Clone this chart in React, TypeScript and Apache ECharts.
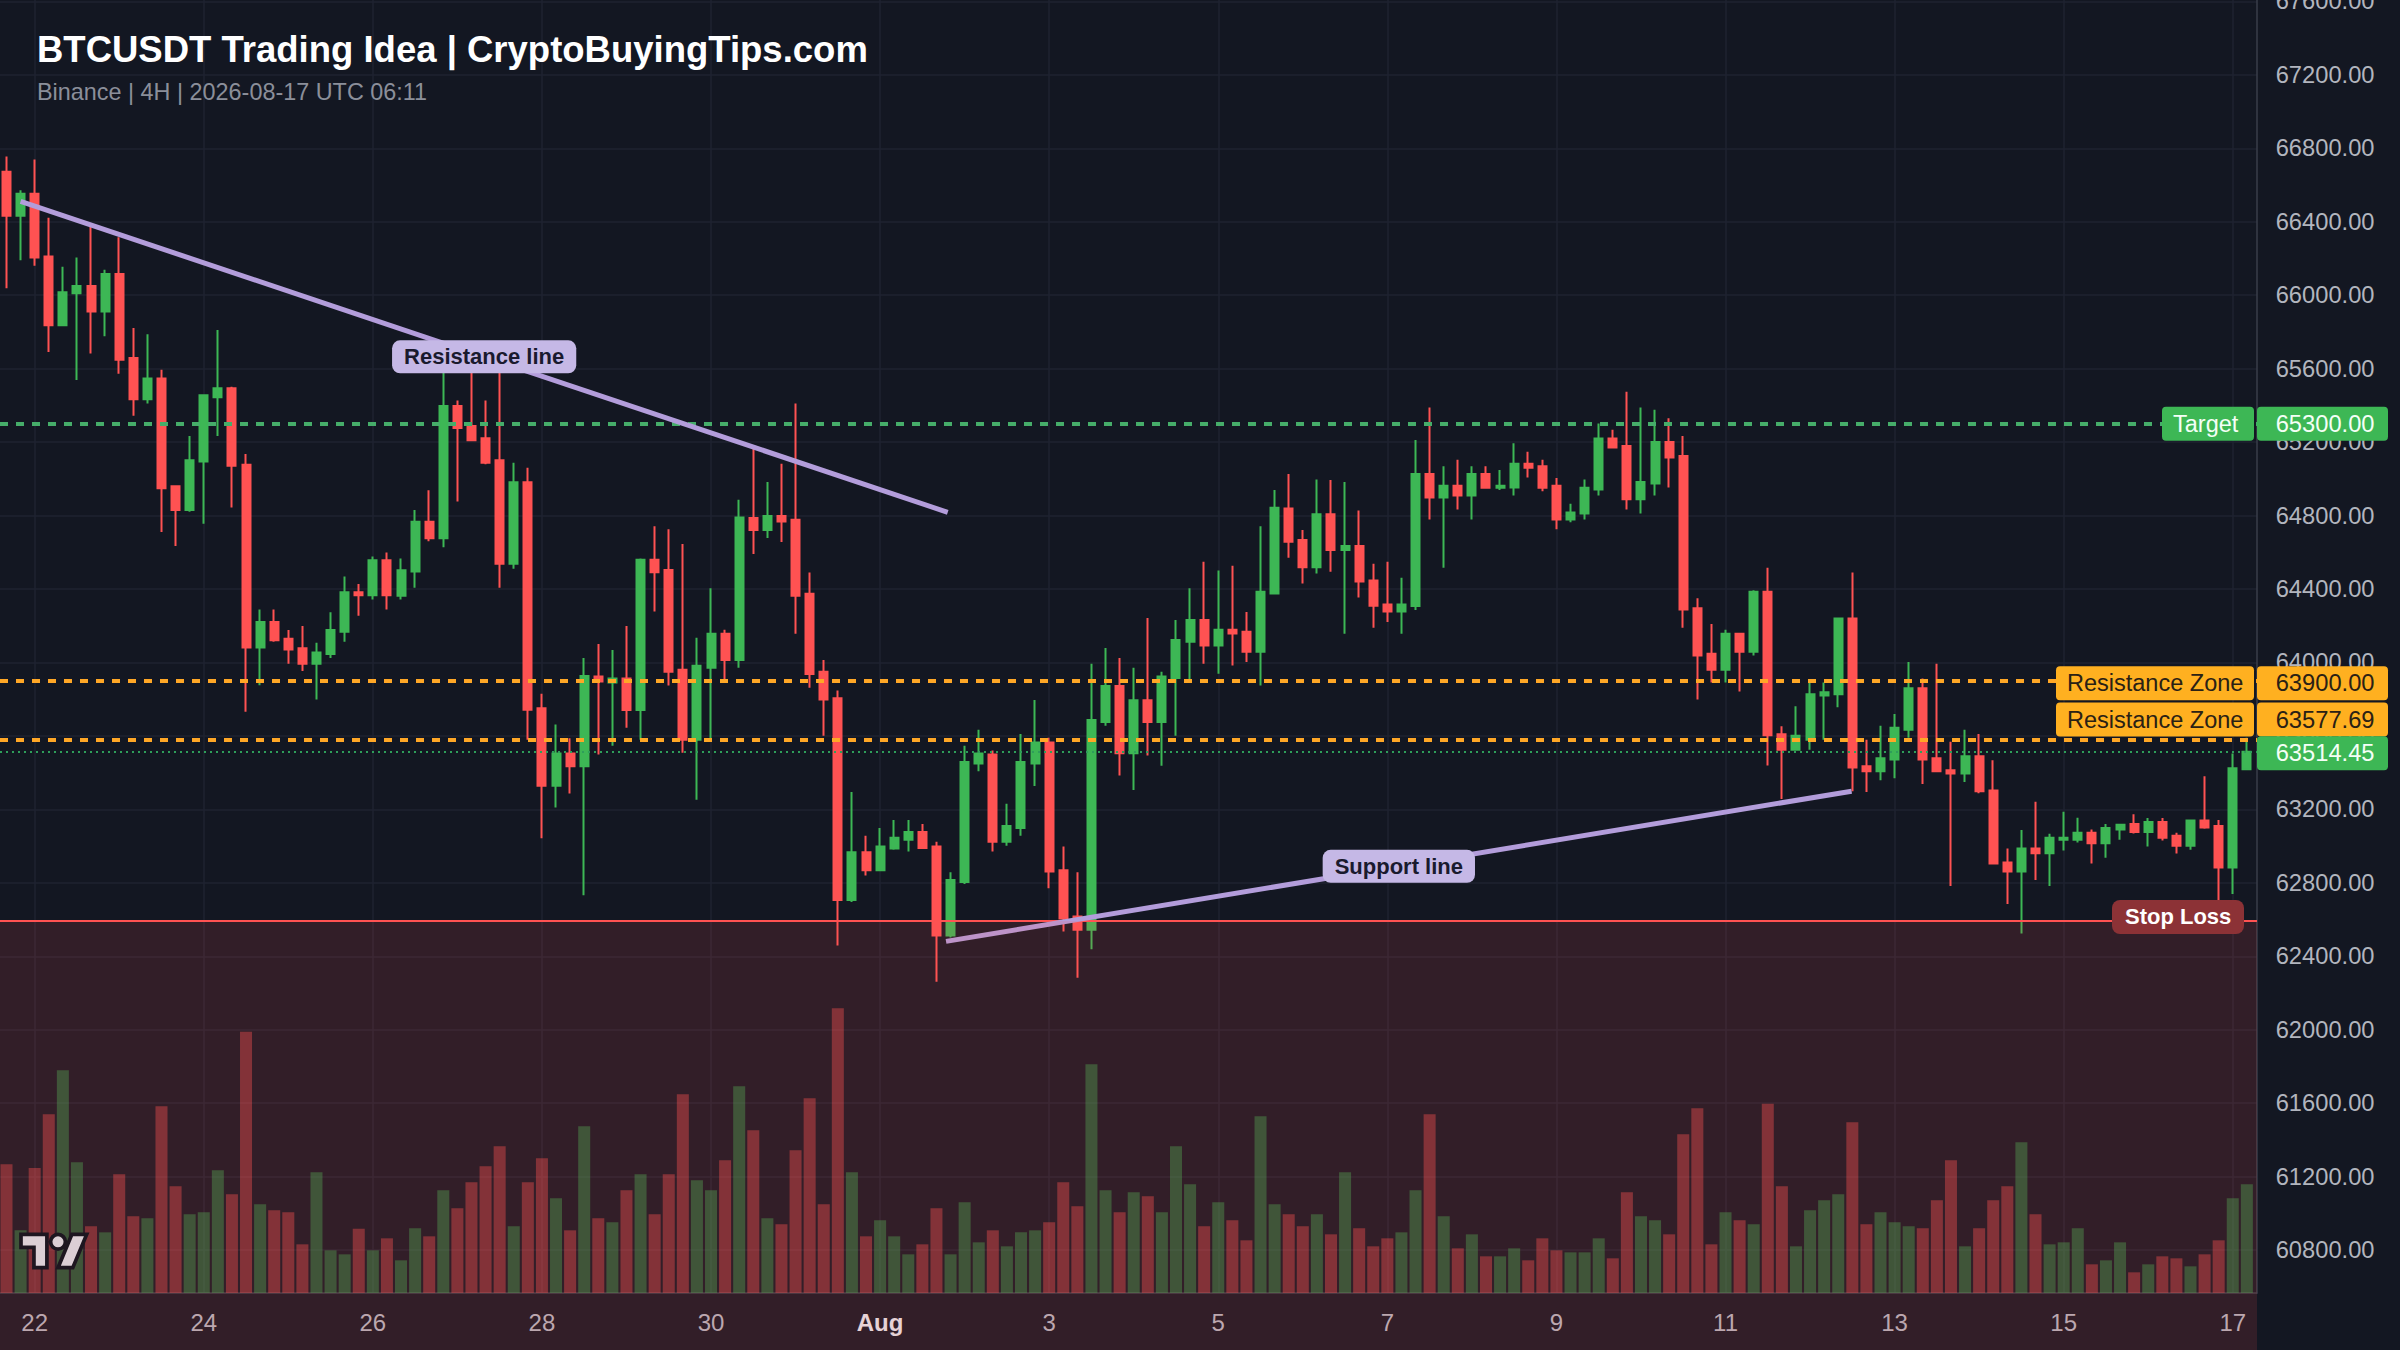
import React, { useEffect, useRef } from "react";
import * as echarts from "echarts";

const opens = [66672,66433,66553,66211,65836,66011,66050,65911,66116,65658,65433,65547,64960,64830,65094,65444,65494,65077,64082,64221,64129,64077,63993,64046,64168,64382,64366,64557,64363,64496,64766,64677,65397,65288,65221,65102,64538,64982,63751,63329,63504,63435,
63924,63891,63913,63741,64559,64503,63960,63579,63971,64156,64014,64787,64721,64798,64777,64374,63950,63805,62707,62967,62868,62987,63034,63077,62998,62513,62804,63450,63499,63023,63099,63450,63564,62868,62616,62545,63676,63872,63506,63794,63676,63915,64113,
64232,64092,64178,64167,64059,64376,64839,64667,64518,64807,64613,64634,64447,64316,64277,64307,65026,64899,64962,64910,65026,64951,64953,65082,65069,64962,64779,64811,64942,65220,65179,64889,64975,65201,65125,64296,64047,63960,64156,64059,64385,63609,63525,
63579,63820,63827,64240,63435,63407,63471,63633,63859,63478,63413,63396,63489,63303,62911,62862,62987,62961,63034,63034,63073,63015,63090,63120,63077,63131,63056,63002,63140,63110,62883,63418];
const closes = [66433,66553,66205,65836,66016,66050,65911,66116,65649,65433,65547,64949,64830,65102,65455,65494,65071,64082,64221,64121,64071,63993,64054,64177,64382,64366,64557,64366,64502,64766,64677,65397,65277,65210,65088,64538,64982,63743,63329,63504,63435,63926,
63896,63913,63741,64559,64492,63950,63579,63982,64156,64014,64790,64721,64798,64768,64363,63937,63799,62707,62967,62868,62998,63045,63077,62989,62513,62815,63458,63504,63023,63110,63458,63564,62862,62606,62545,63687,63872,63506,63794,63676,63924,64122,64232,
64092,64178,64158,64059,64385,64843,64658,64518,64807,64613,64634,64441,64309,64277,64316,65026,64899,64962,64910,65026,64951,64962,65082,65061,64951,64779,64817,64951,65220,65171,64889,64983,65201,65117,64288,64038,63960,64156,64059,64385,63603,63525,63601,
63827,63838,64240,63428,63407,63478,63644,63859,63471,63407,63396,63489,63299,62905,62862,62987,62961,63045,63045,63073,63015,63099,63116,63077,63131,63045,63002,63140,63101,62883,63424,63514.45];
const lows = [66038,66191,66161,65691,65836,65538,65683,65777,65572,65344,65410,64710,64635,64821,64755,65233,64844,63732,63876,64113,63993,63954,63799,64024,64113,64254,64343,64288,64343,64407,64660,64627,64877,65205,65080,64407,64510,63579,63043,63210,63287,62732,
63499,63547,63644,63579,64277,63874,63508,63252,63579,63891,63971,64591,64678,64656,64156,63863,63601,62459,62696,62840,62868,62980,62970,62987,62261,62502,62793,63407,62970,63002,63056,63327,62771,62535,62283,62438,63655,63385,63306,63493,63437,63601,63891,
63993,63939,63984,64003,63874,64376,64570,64430,64484,64494,64156,64354,64189,64221,64156,64286,64779,64516,64833,64779,64947,64940,64910,65007,64932,64725,64764,64779,64910,65169,64833,64811,64910,64953,64189,63799,63891,63891,63842,64038,63439,63256,63525,
63525,63579,63756,63299,63295,63359,63370,63590,63338,63407,62782,63349,63288,62905,62685,62524,62815,62782,62976,63019,62905,62937,63034,63069,62998,63030,62959,62980,63095,62653,62739,63418];
const highs = [66755,66572,66739,66422,66155,66205,66372,66139,66316,65822,65788,65594,64960,65233,65455,65811,65502,65135,64288,64288,64177,64199,64107,64274,64468,64427,64577,64599,64566,64830,64938,65594,65427,65594,65427,65594,65088,65060,63829,63662,63587,64024,
64100,64068,64199,64566,64742,64725,64645,64135,64404,64178,64886,65162,64983,65082,65410,64490,64014,63848,63295,63056,63099,63142,63142,63120,63023,62858,63547,63633,63521,63230,63611,63795,63590,62998,62858,63993,64079,64025,63971,64242,63950,64232,64404,
64548,64501,64527,64275,64742,64940,65026,64721,64996,64994,64983,64828,64538,64548,64462,65212,65388,65069,65104,65069,65069,65048,65194,65147,65104,65005,64865,64996,65302,65268,65474,65388,65377,65330,65233,64350,64210,64178,64156,64393,64516,63652,63762,
63891,63891,64240,64490,63579,63655,63719,64003,63913,63993,63568,63633,63611,63467,62987,63088,63241,63067,63187,63155,63090,63120,63120,63174,63153,63153,63073,63144,63381,63142,63504,63590];
const volumes = [386,188,375,536,668,392,200,182,356,230,224,560,320,236,242,368,296,784,266,248,242,146,362,128,116,193,128,164,98,194,170,308,254,332,380,440,200,332,404,284,188,500,224,212,308,356,236,356,596,338,308,398,620,488,224,206,428,
584,266,854,362,170,218,170,116,146,254,116,272,152,188,140,182,188,212,332,260,686,308,242,302,290,242,440,326,200,272,218,158,530,266,236,200,236,176,362,194,140,164,182,308,536,230,134,176,110,110,134,98,164,128,122,122,164,
104,302,230,218,176,476,554,146,242,218,206,568,320,140,248,278,296,512,206,242,212,200,194,278,398,140,194,278,320,452,236,146,152,194,86,98,152,62,86,110,104,80,116,158,284,326];

const dateTickIndex = [2,14,26,38,50,62,74,86,98,110,122,134,146,158];
const dateTickLabels = ["22","24","26","28","30","Aug","3","5","7","9","11","13","15","17"];
const priceTicks = [60800,61200,61600,62000,62400,62800,63200,63600,64000,64400,64800,65200,65600,66000,66400,66800,67200,67600];

const targetPrice = 65300;
const zoneHigh = 63900;
const zoneLow = 63577.69;
const lastPrice = 63514.45;
const stopPrice = 62592;
const resistanceLine = [[1, 66511], [66.8, 64818]];
const supportLine = [[66.68, 62481], [130.95, 63299]];

const FONT = '"Liberation Sans", Arial, Helvetica, sans-serif';
const BG = "#131722";
const UP = "#3DB755";
const DOWN = "#FF5252";
const GRID = "#1F2330";
const AXIS_TEXT = "#B2B5BE";
const PURPLE = "#B39DDB";
const TAG_PURPLE = "#C5B8E6";
const ORANGE = "#FFA726";
const AMBER = "#FFB020";
const INK = "#2A2115";

const PLOT_W = 2257;
const PLOT_H = 1293;

echarts.graphic.registerShape(
  "tvlogo",
  echarts.graphic.extendPath(
    "M14 22H7V11H0V4h14v18zM28 22h-8l7.5-18h8L28 22zM24 8a4 4 0 1 1-8 0 4 4 0 0 1 8 0z",
    {}
  )
);

function trendLabel(text: string) {
  return {
    show: true,
    position: "middle",
    rotate: 0,
    distance: 0,
    align: "center",
    verticalAlign: "middle",
    formatter: text,
    color: "#1A1A2E",
    fontFamily: FONT,
    fontWeight: "bold",
    fontSize: 22,
    lineHeight: 22,
    backgroundColor: TAG_PURPLE,
    padding: [5, 12, 6, 12],
    borderRadius: 8,
  };
}

function App() {
  const ref = useRef<HTMLDivElement>(null);
  useEffect(() => {
    const chart = echarts.init(ref.current!, null, { renderer: "svg" });
    const hLine = (value: number, color: string, width: number, type: any) => ({
      yAxis: value,
      lineStyle: { color, width, type, opacity: 1 },
      label: { show: false },
    });
    chart.setOption({
      animation: false,
      backgroundColor: BG,
      title: [
        {
          text: "BTCUSDT Trading Idea | CryptoBuyingTips.com",
          left: 37,
          top: 31,
          padding: 0,
          textStyle: { color: "#FFFFFF", fontFamily: FONT, fontSize: 36.5, fontWeight: "bold" },
        },
        {
          text: "Binance | 4H | 2026-08-17 UTC 06:11",
          left: 37,
          top: 80,
          padding: 0,
          textStyle: { color: "#8B8F9A", fontFamily: FONT, fontSize: 23.4, fontWeight: "normal" },
        },
      ],
      grid: {
        left: 0,
        top: 0,
        width: PLOT_W,
        height: PLOT_H,
        containLabel: false,
        outerBoundsMode: "none",
      },
      xAxis: {
        type: "value",
        min: -0.461,
        max: 159.72,
        axisLine: { show: true, onZero: false, lineStyle: { color: "#3A3E4A", width: 1.5 } },
        axisTick: { show: false, customValues: dateTickIndex },
        splitLine: { show: true, lineStyle: { color: GRID, width: 1.5 } },
        axisLabel: {
          customValues: dateTickIndex,
          margin: 17,
          color: AXIS_TEXT,
          fontFamily: FONT,
          fontSize: 24,
          hideOverlap: false,
          formatter: (v: number) => {
            const label = dateTickLabels[dateTickIndex.indexOf(v)] ?? "";
            return label === "Aug" ? `{b|${label}}` : label;
          },
          rich: { b: { color: "#E4E6EB", fontFamily: FONT, fontSize: 24, fontWeight: "bold" } },
        },
      },
      yAxis: [
        {
          type: "value",
          position: "right",
          min: 60566,
          max: 67608,
          axisLine: { show: true, onZero: false, lineStyle: { color: "#3A3E4A", width: 1.5 } },
          axisTick: { show: false, customValues: priceTicks },
          splitLine: { show: true, lineStyle: { color: GRID, width: 1.5 } },
          axisLabel: {
            customValues: priceTicks,
            margin: 18.7,
            align: "left",
            color: AXIS_TEXT,
            fontFamily: FONT,
            fontSize: 23.7,
            hideOverlap: false,
            formatter: (v: number) => v.toFixed(2),
          },
        },
        {
          type: "value",
          show: false,
          min: 0,
          max: 3879,
          axisLine: { show: false, onZero: false },
          splitLine: { show: false },
        },
      ],
      series: [
        {
          name: "Volume",
          type: "bar",
          yAxisIndex: 1,
          barWidth: 12,
          z: 1,
          silent: true,
          data: volumes.map((v, i) => ({
            value: [i, v],
            itemStyle: {
              color: closes[i] >= opens[i] ? "rgba(61,183,85,0.4)" : "rgba(255,82,82,0.4)",
            },
          })),
        },
        {
          name: "BTCUSDT",
          type: "candlestick",
          yAxisIndex: 0,
          barWidth: 8.5,
          z: 3,
          silent: true,
          itemStyle: {
            color: UP,
            color0: DOWN,
            borderColor: UP,
            borderColor0: DOWN,
            borderWidth: 2,
          },
          data: opens.map((o, i) => [i, o, closes[i], lows[i], highs[i]]),
          markLine: {
            silent: true,
            symbol: "none",
            animation: false,
            precision: 2,
            data: [
              hLine(targetPrice, "#46AD6A", 4, [8, 8]),
              hLine(zoneHigh, ORANGE, 4, [8, 8]),
              hLine(zoneLow, ORANGE, 4, [8, 8]),
              hLine(lastPrice, "#2E9E5A", 2, [2, 4]),
              hLine(stopPrice, DOWN, 2, "solid"),
              [
                {
                  coord: resistanceLine[0],
                  lineStyle: { color: PURPLE, width: 5, type: "solid", opacity: 1 },
                  label: trendLabel("Resistance line"),
                },
                { coord: resistanceLine[1] },
              ],
              [
                {
                  coord: supportLine[0],
                  lineStyle: { color: PURPLE, width: 5, type: "solid", opacity: 1 },
                  label: trendLabel("Support line"),
                },
                { coord: supportLine[1] },
              ],
            ],
          },
        },
      ],
    });

    const yOf = (p: number) => chart.convertToPixel({ yAxisIndex: 0 }, p) as number;
    const TAG_H = 34;
    const priceTagX = 2257;
    const priceTagW = 131;
    const nameTagRight = 2254;

    const tagText = (text: string, x: number, cy: number, fill: string, font: string, z = 102) => ({
      type: "text",
      z,
      silent: true,
      x,
      y: cy,
      style: {
        text,
        fill,
        font,
        align: "left",
        verticalAlign: "middle",
        textAlign: "left",
        textVerticalAlign: "middle",
      },
    });
    const tagRect = (x: number, cy: number, w: number, fill: string, r: any = 4, z = 101) => ({
      type: "rect",
      z,
      silent: true,
      shape: { x, y: cy - TAG_H / 2, width: w, height: TAG_H, r },
      style: { fill },
    });
    const axisFont = `23.7px ${FONT}`;
    const nameFont = `23.5px ${FONT}`;
    const tags = [
      { name: "Target", price: targetPrice, nudge: 0, fill: UP, text: "#F4FFF6", nameW: 92 },
      { name: "Resistance Zone", price: zoneHigh, nudge: 2.5, fill: AMBER, text: INK, nameW: 198 },
      { name: "Resistance Zone", price: zoneLow, nudge: -20.5, fill: AMBER, text: INK, nameW: 198 },
      { name: "", price: lastPrice, nudge: 1.5, fill: UP, text: "#F4FFF6", nameW: 0 },
    ];
    const elements: any[] = [
      {
        type: "rect",
        z: 50,
        silent: true,
        shape: { x: 0, y: yOf(stopPrice), width: PLOT_W, height: 1350 - yOf(stopPrice) },
        style: { fill: "rgba(255,82,82,0.135)" },
      },
      {
        type: "tvlogo",
        z: 60,
        silent: true,
        x: 21,
        y: 1227,
        scaleX: 1.85,
        scaleY: 1.85,
        style: { fill: "#DCCFD5", stroke: "#1E1620", lineWidth: 2 },
      },
    ];
    tags.forEach((t) => {
      const cy = yOf(t.price) + t.nudge;
      elements.push(tagRect(priceTagX, cy, priceTagW, t.fill));
      elements.push(tagText(t.price.toFixed(2), 2275.7, cy, t.text, axisFont));
      if (t.name) {
        const left = nameTagRight - t.nameW;
        elements.push(tagRect(left, cy, t.nameW, t.fill));
        elements.push(tagText(t.name, left + 11, cy, t.text, nameFont));
      }
    });
    const stopCy = 917;
    elements.push(tagRect(2112, stopCy, 132, "#8C3236", 8));
    elements.push(tagText("Stop Loss", 2125, stopCy - 1, "#FFFFFF", `bold 22px ${FONT}`));
    chart.setOption({ graphic: { elements } });

    return () => chart.dispose();
  }, []);
  return (
    <div
      ref={ref}
      style={{ position: "fixed", left: 0, top: 0, width: 2400, height: 1350 }}
    />
  );
}

export default App;
